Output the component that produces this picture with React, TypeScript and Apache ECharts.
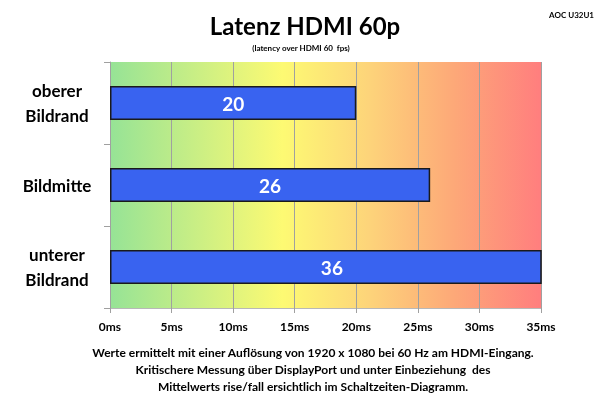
import React, { useEffect, useRef } from "react";
import * as echarts from "echarts";

const categories = ["oberer\nBildrand", "Bildmitte", "unterer\nBildrand"];
const latencyMs = [20, 26, 36];
const xMin = 0;
const xMax = 35;
const xInterval = 5;
const titleText = "Latenz HDMI 60p";
const subtitleText = "(latency over HDMI 60  fps)";
const deviceText = "AOC U32U1";
const footerLines = [
  "Werte ermittelt mit einer Auflösung von 1920 x 1080 bei 60 Hz am HDMI-Eingang.",
  "Kritischere Messung über DisplayPort und unter Einbeziehung  des",
  "Mittelwerts rise/fall ersichtlich im Schaltzeiten-Diagramm.",
];

const FONT = "Lato, 'Open Sans', sans-serif";

export default function App() {
  const ref = useRef<HTMLDivElement>(null);
  useEffect(() => {
    if (!ref.current) return;
    const chart = echarts.init(ref.current, null, { renderer: "svg" });
    const bg = new echarts.graphic.LinearGradient(0, 0, 1, 0, [
      { offset: 0, color: "#96e396" },
      { offset: 0.4, color: "#fdfa73" },
      { offset: 0.6, color: "#fdd47a" },
      { offset: 0.8, color: "#fda878" },
      { offset: 1, color: "#ff7e7e" },
    ]);
    // bars exceeding the axis max are clipped; their label is shifted to sit
    // where the centre of the unclipped bar would be, as in the original
    const barData = latencyMs.map((v) =>
      v > xMax ? { value: v, label: { offset: [6, 0] } } : v
    );
    chart.setOption({
      animation: false,
      textStyle: { fontFamily: FONT },
      title: [
        {
          text: titleText,
          left: 300,
          top: 8,
          textAlign: "center",
          textStyle: { fontFamily: FONT, fontSize: 24, fontWeight: "bold", color: "#000" },
        },
        {
          text: subtitleText,
          left: 296,
          top: 39,
          textAlign: "center",
          textStyle: { fontFamily: FONT, fontSize: 8, fontWeight: "bold", color: "#000" },
        },
        {
          text: deviceText,
          right: 1,
          top: 6,
          textStyle: { fontFamily: FONT, fontSize: 8, fontWeight: "bold", color: "#000" },
        },
        {
          text: footerLines.join("\n"),
          left: 308,
          top: 339,
          textAlign: "center",
          textStyle: {
            fontFamily: FONT,
            fontSize: 12,
            fontWeight: "bold",
            color: "#000",
            lineHeight: 17,
            align: "center",
          },
        },
      ],
      grid: {
        left: 110,
        right: 59,
        top: 62,
        bottom: 87,
        show: true,
        backgroundColor: bg,
        borderWidth: 0,
      },
      xAxis: {
        type: "value",
        min: xMin,
        max: xMax,
        interval: xInterval,
        axisLabel: {
          formatter: "{value}ms",
          fontFamily: FONT,
          fontSize: 12,
          fontWeight: "bold",
          color: "#000",
          margin: 12,
        },
        axisLine: { show: true, lineStyle: { color: "#b8b8b8", width: 1 } },
        axisTick: { show: true, length: 5, lineStyle: { color: "#a0a0a0" } },
        splitLine: { show: true, lineStyle: { color: "#a0a0a0", width: 1 } },
      },
      yAxis: {
        type: "category",
        data: categories,
        inverse: true,
        axisLabel: {
          fontFamily: FONT,
          fontSize: 17,
          fontWeight: "bold",
          color: "#000",
          lineHeight: 25,
          align: "center",
          margin: 53,
        },
        axisLine: { show: true, lineStyle: { color: "#a0a0a0", width: 1 } },
        axisTick: { show: true, length: 6, lineStyle: { color: "#a0a0a0" } },
        splitLine: { show: false },
      },
      series: [
        {
          type: "bar",
          data: barData,
          barWidth: 34,
          clip: true,
          itemStyle: { color: "#3963f0", borderColor: "#1a1a1a", borderWidth: 1.5 },
          label: {
            show: true,
            position: "inside",
            color: "#fff",
            fontFamily: FONT,
            fontSize: 19,
            fontWeight: "bold",
          },
        },
      ],
    });
    return () => chart.dispose();
  }, []);
  return (
    <div
      ref={ref}
      style={{ position: "fixed", left: 0, top: 0, width: 600, height: 395 }}
    />
  );
}
